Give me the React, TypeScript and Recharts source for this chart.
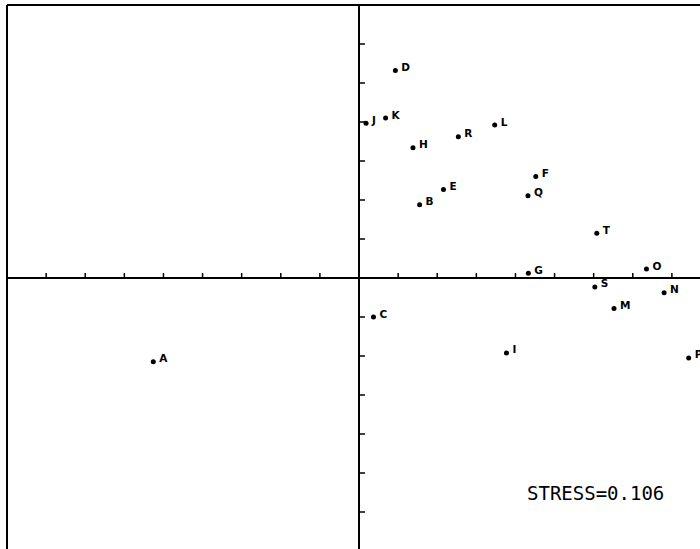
import React from 'react';
import { ScatterChart, Scatter, XAxis, YAxis, ReferenceLine, ReferenceDot } from 'recharts';

// point labels and their coordinates in the configuration
const names = ['A', 'B', 'C', 'D', 'E', 'F', 'G', 'H', 'I', 'J', 'K', 'L', 'M', 'N', 'O', 'P', 'Q', 'R', 'S', 'T'];
const xValues = [-5.26, 1.55, 0.37, 0.93, 2.16, 4.52, 4.33, 1.38, 3.77, 0.18, 0.68, 3.47, 6.52, 7.8, 7.35, 8.43, 4.32, 2.54, 6.03, 6.08];
const yValues = [-2.15, 1.88, -1.0, 5.32, 2.27, 2.6, 0.12, 3.34, -1.92, 3.97, 4.1, 3.92, -0.78, -0.38, 0.23, -2.05, 2.11, 3.62, -0.23, 1.15];

const xTicks = [-8, -7, -6, -5, -4, -3, -2, -1, 1, 2, 3, 4, 5, 6, 7, 8];
const yTicks = [-6, -5, -4, -3, -2, -1, 1, 2, 3, 4, 5, 6];

const stressLabel = 'STRESS=0.106';

const points = names.map((name, i) => ({ name, x: xValues[i], y: yValues[i] }));

const PointMark = (props: any) => {
    const { cx, cy } = props;
    const name = props.payload?.name ?? props.name;
    return (
        <g>
            <circle cx={cx} cy={cy} r={2.5} fill="#000" />
            <text
                x={cx + 6}
                y={cy + 0.5}
                fontFamily="DejaVu Sans"
                fontWeight="bold"
                fontSize={10.5}
                fill="#000"
            >
                {name}
            </text>
        </g>
    );
};

const XTick = (props: any) => (
    <line x1={props.cx} y1={props.cy} x2={props.cx} y2={props.cy - 5} stroke="#000" strokeWidth={1.5} />
);

const YTick = (props: any) => (
    <line x1={props.cx} y1={props.cy} x2={props.cx + 6} y2={props.cy} stroke="#000" strokeWidth={1.5} />
);

export default function App() {
    return (
        <div style={{ position: 'absolute', left: 0, top: 0, width: 700, height: 549, overflow: 'hidden', background: '#fff' }}>
            <ScatterChart width={721} height={561} margin={{ top: 5, left: 7, right: 10, bottom: 10 }}>
                <XAxis type="number" dataKey="x" domain={[-9, 9]} hide />
                <YAxis type="number" dataKey="y" domain={[-7, 7]} hide />
                {/* frame: only the top and left edges fall inside the picture */}
                <ReferenceLine x={-9} stroke="#000" strokeWidth={2} />
                <ReferenceLine y={7} stroke="#000" strokeWidth={2} />
                {/* axes through the origin */}
                <ReferenceLine x={0} stroke="#000" strokeWidth={2} />
                <ReferenceLine y={0} stroke="#000" strokeWidth={2.2} />
                {xTicks.map(t => (
                    <ReferenceDot key={'xt' + t} x={t} y={0} r={0} shape={XTick} />
                ))}
                {yTicks.map(t => (
                    <ReferenceDot key={'yt' + t} x={0} y={t} r={0} shape={YTick} />
                ))}
                <Scatter data={points} shape={PointMark} isAnimationActive={false} />
            </ScatterChart>
            <div
                style={{
                    position: 'absolute',
                    left: 527,
                    top: 482,
                    fontFamily: 'DejaVu Sans Mono',
                    fontSize: 19,
                    lineHeight: '22px',
                    color: '#000',
                }}
            >
                {stressLabel}
            </div>
        </div>
    );
}
